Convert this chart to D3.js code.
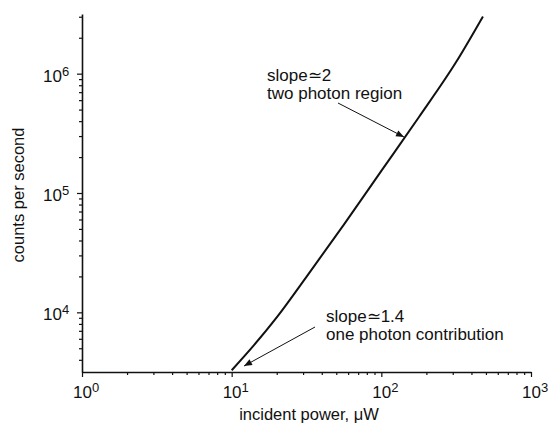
<!DOCTYPE html>
<html>
<head>
<meta charset="utf-8">
<script src="https://cdn.jsdelivr.net/npm/d3@7"></script>
<style>
  body { margin: 0; background: #fff; }
  svg { font-family: "Liberation Sans", Arial, sans-serif; }
</style>
</head>
<body>
<svg id="chart" width="548" height="424"></svg>
<script>
// values
const powerUW = [10, 14.1, 20.0, 31.6, 56.2, 100, 178, 316, 477];
const countsPerSec = [3270, 5310, 9070, 19840, 54330, 153100, 431500, 1252000, 3010000];
const xDecades = [0, 1, 2, 3];
const yDecades = [4, 5, 6];
const notes = [
  { lines: ["slope\u22432", "two photon region"], at: [267, 81], from: [338, 103], to: [404, 137] },
  { lines: ["slope\u22431.4", "one photon contribution"], at: [326, 322], from: [315, 327], to: [244, 366] }
];

const svg = d3.select("#chart");

const x = d3.scaleLog().domain([1, 1000]).range([82, 531]);
const y = d3.scaleLog().domain([Math.pow(10, 3.5), Math.pow(10, 6.5)]).range([372, 14]);

function logTicks(lo, hi) {
  const out = [];
  for (let e = Math.floor(Math.log10(lo)); e <= Math.ceil(Math.log10(hi)); e++) {
    for (let m = 1; m < 10; m++) {
      const v = m * Math.pow(10, e);
      if (v >= lo * 0.999 && v <= hi * 1.001) out.push(v);
    }
  }
  return out;
}
const isMajor = v => Math.abs(Math.log10(v) - Math.round(Math.log10(v))) < 1e-6;

// x axis
const gx = svg.append("g")
  .attr("transform", "translate(0,372)")
  .call(d3.axisBottom(x).tickValues(logTicks(1, 1000)).tickSize(3).tickFormat("").tickSizeOuter(0));
gx.selectAll(".tick line").attr("y2", d => isMajor(d) ? 5 : 3);

// y axis
const gy = svg.append("g")
  .attr("transform", "translate(82,0)")
  .call(d3.axisLeft(y).tickValues(logTicks(y.domain()[0], y.domain()[1])).tickSize(3).tickFormat("").tickSizeOuter(0));
gy.selectAll(".tick line").attr("x2", d => isMajor(d) ? -5 : -3);

svg.selectAll(".domain").attr("stroke", "#111").attr("stroke-width", 1.6);
svg.selectAll(".tick line").attr("stroke", "#111").attr("stroke-width", 1.2);

// tick labels with superscripts
const xl = svg.append("g").selectAll("text").data(xDecades).enter().append("text")
  .attr("x", d => x(Math.pow(10, d)) - 9)
  .attr("y", 398)
  .attr("font-size", 17)
  .attr("fill", "#111");
xl.append("tspan").text("10");
xl.append("tspan").attr("dy", -6).attr("font-size", 13).text(d => d);

const yl = svg.append("g").selectAll("text").data(yDecades).enter().append("text")
  .attr("x", 43)
  .attr("y", d => y(Math.pow(10, d)) + 8)
  .attr("font-size", 17)
  .attr("fill", "#111");
yl.append("tspan").text("10");
yl.append("tspan").attr("dy", -6).attr("font-size", 13).text(d => d);

// axis titles
svg.append("text")
  .attr("x", 309).attr("y", 420)
  .attr("text-anchor", "middle")
  .attr("font-size", 16.5)
  .attr("fill", "#111")
  .text("incident power, \u03bcW");

svg.append("text")
  .attr("transform", "translate(24,195) rotate(-90)")
  .attr("text-anchor", "middle")
  .attr("font-size", 16.5)
  .attr("fill", "#111")
  .text("counts per second");

// curve
const line = d3.line()
  .x((d, i) => x(powerUW[i]))
  .y(d => y(d))
  .curve(d3.curveMonotoneX);

svg.append("path")
  .datum(countsPerSec)
  .attr("d", line)
  .attr("fill", "none")
  .attr("stroke", "#111")
  .attr("stroke-width", 2);

// arrows
svg.append("defs").append("marker")
  .attr("id", "arrowhead")
  .attr("viewBox", "0 -5 10 10")
  .attr("refX", 10)
  .attr("refY", 0)
  .attr("orient", "auto")
  .attr("markerUnits", "userSpaceOnUse")
  .attr("markerWidth", 11)
  .attr("markerHeight", 8)
  .append("path")
  .attr("d", "M0,-4L10,0L0,4Z")
  .attr("fill", "#111");

const note = svg.append("g").selectAll("g").data(notes).enter().append("g");
note.append("line")
  .attr("x1", d => d.from[0]).attr("y1", d => d.from[1])
  .attr("x2", d => d.to[0]).attr("y2", d => d.to[1])
  .attr("stroke", "#111")
  .attr("stroke-width", 1)
  .attr("marker-end", "url(#arrowhead)");
note.each(function(d) {
  const t = d3.select(this).append("text")
    .attr("x", d.at[0]).attr("y", d.at[1])
    .attr("font-size", 17)
    .attr("fill", "#111");
  d.lines.forEach((s, i) => {
    t.append("tspan").attr("x", d.at[0]).attr("dy", i ? 18 : 0).text(s);
  });
});
</script>
</body>
</html>
